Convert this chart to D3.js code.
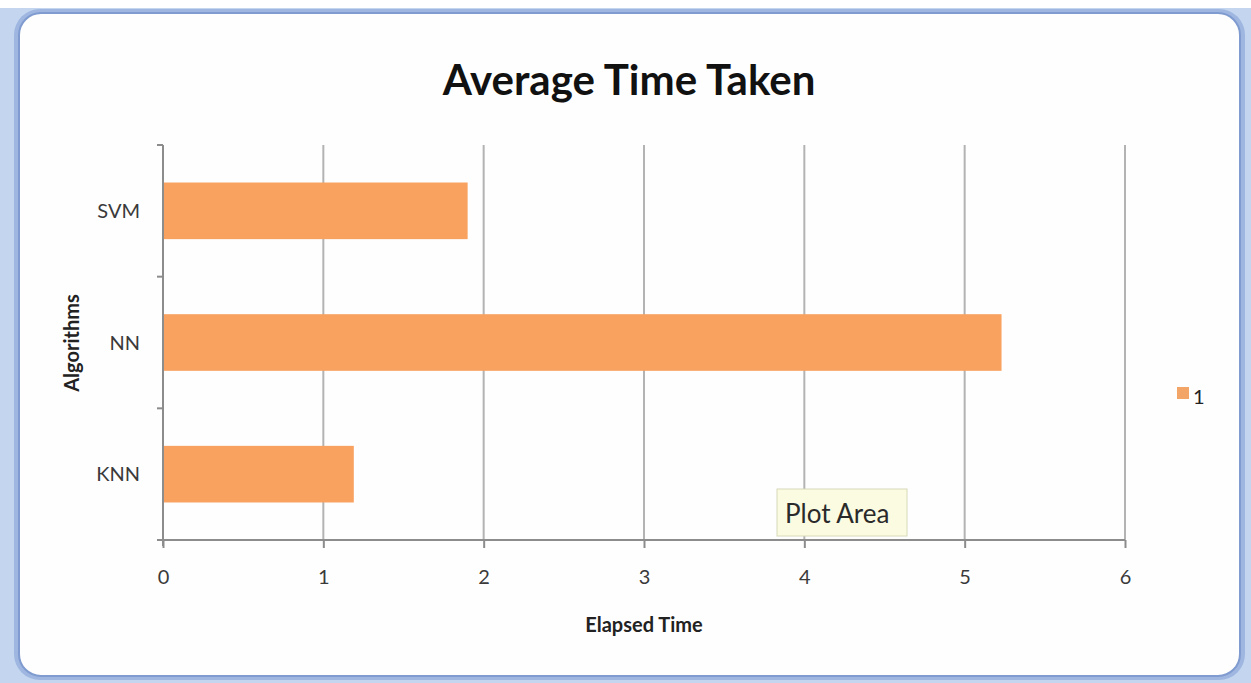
<!DOCTYPE html>
<html><head><meta charset="utf-8">
<script src="https://cdn.jsdelivr.net/npm/d3@7"></script>
<style>html,body{margin:0;padding:0;background:#fff;overflow:hidden}</style>
</head><body>
<svg id="c" width="1251" height="683"></svg>
<script>
const categories = ["SVM", "NN", "KNN"];
const values = [1.90, 5.23, 1.19];
const xTicks = [0, 1, 2, 3, 4, 5, 6];
const seriesName = "1";
const title = "Average Time Taken";
const xTitle = "Elapsed Time";
const yTitle = "Algorithms";

const svg = d3.select("#c");
const font = "Lato, 'Open Sans', sans-serif";

// window background / frame
svg.append("rect").attr("x",0).attr("y",0).attr("width",1251).attr("height",683).attr("fill","#fff");
svg.append("rect").attr("x",0).attr("y",8).attr("width",1251).attr("height",675).attr("fill","#c3d5ef");
svg.append("rect").attr("x",14).attr("y",9).attr("width",1231).attr("height",671).attr("rx",26)
  .attr("fill","#9fb7e0");
svg.append("rect").attr("x",19).attr("y",13).attr("width",1221).attr("height",663).attr("rx",22)
  .attr("fill","#fefefe").attr("stroke","#7f9bcf").attr("stroke-width",2);

const m = {left:163, right:1125, top:145, bottom:540};
const x = d3.scaleLinear().domain([0,6]).range([m.left, m.right]);
const y = d3.scaleBand().domain(categories).range([m.top, m.bottom]).paddingInner(0.57).paddingOuter(0.285);

// gridlines
svg.append("g").selectAll("line").data(xTicks.slice(1)).join("line")
  .attr("x1", d=>x(d)).attr("x2", d=>x(d)).attr("y1", m.top).attr("y2", m.bottom)
  .attr("stroke","#b3b3b3").attr("stroke-width",2);

// bars
svg.append("g").selectAll("rect").data(categories).join("rect")
  .attr("x", x(0)+1).attr("y", d=>y(d))
  .attr("width", (d,i)=>x(values[i])-x(0)-1).attr("height", y.bandwidth())
  .attr("fill","#f9a15e");

// x axis
const xAxis = svg.append("g").attr("transform",`translate(0,${m.bottom})`)
  .call(d3.axisBottom(x).tickValues(xTicks).tickFormat(d3.format("d")).tickSize(8).tickPadding(22).tickSizeOuter(0));
xAxis.select(".domain").attr("stroke","#8c8c8c").attr("stroke-width",2).attr("d",`M${m.left-6},0H${m.right}`);
xAxis.selectAll(".tick line").attr("stroke","#8c8c8c").attr("stroke-width",2);
xAxis.selectAll("text").attr("font-family",font).attr("font-size",20).attr("fill","#3a3a3a");

// y axis
const yBound = d3.scaleLinear().domain([0,3]).range([m.top, m.bottom]);
const yAxisG = svg.append("g");
yAxisG.append("line").attr("x1",m.left).attr("x2",m.left).attr("y1",m.top).attr("y2",m.bottom+6)
  .attr("stroke","#8c8c8c").attr("stroke-width",2);
yAxisG.selectAll("line.t").data([0,1,2,3]).join("line").attr("class","t")
  .attr("x1",m.left-6).attr("x2",m.left).attr("y1",d=>yBound(d)).attr("y2",d=>yBound(d))
  .attr("stroke","#8c8c8c").attr("stroke-width",2);
yAxisG.selectAll("text").data(categories).join("text")
  .attr("x", m.left-23).attr("y", d=>y(d)+y.bandwidth()/2).attr("dy","0.35em")
  .attr("text-anchor","end").attr("font-family",font).attr("font-size",20).attr("fill","#3a3a3a")
  .text(d=>d);

// titles
svg.append("text").attr("x",629).attr("y",95).attr("text-anchor","middle")
  .attr("font-family",font).attr("font-weight","bold").attr("font-size",42).attr("fill","#111")
  .text(title);
svg.append("text").attr("x",644).attr("y",632).attr("text-anchor","middle")
  .attr("font-family",font).attr("font-weight","bold").attr("font-size",20).attr("fill","#222")
  .text(xTitle);
svg.append("text").attr("transform","translate(79,343) rotate(-90)").attr("text-anchor","middle")
  .attr("font-family",font).attr("font-weight","bold").attr("font-size",20).attr("fill","#222")
  .text(yTitle);

// legend
svg.append("rect").attr("x",1177).attr("y",387).attr("width",12).attr("height",12).attr("fill","#f2a566");
svg.append("text").attr("x",1193).attr("y",404).attr("font-family",font).attr("font-size",20).attr("fill","#222").text(seriesName);

// tooltip "Plot Area"
const tip = svg.append("g");
tip.append("rect").attr("x",777).attr("y",489).attr("width",130).attr("height",47)
  .attr("fill","#fbfbe2").attr("stroke","#d8d8b8").attr("stroke-width",1);
tip.append("text").attr("x",785).attr("y",523).attr("font-family",font).attr("font-size",26).attr("fill","#2a2a2a").text("Plot Area");
</script>
</body></html>
